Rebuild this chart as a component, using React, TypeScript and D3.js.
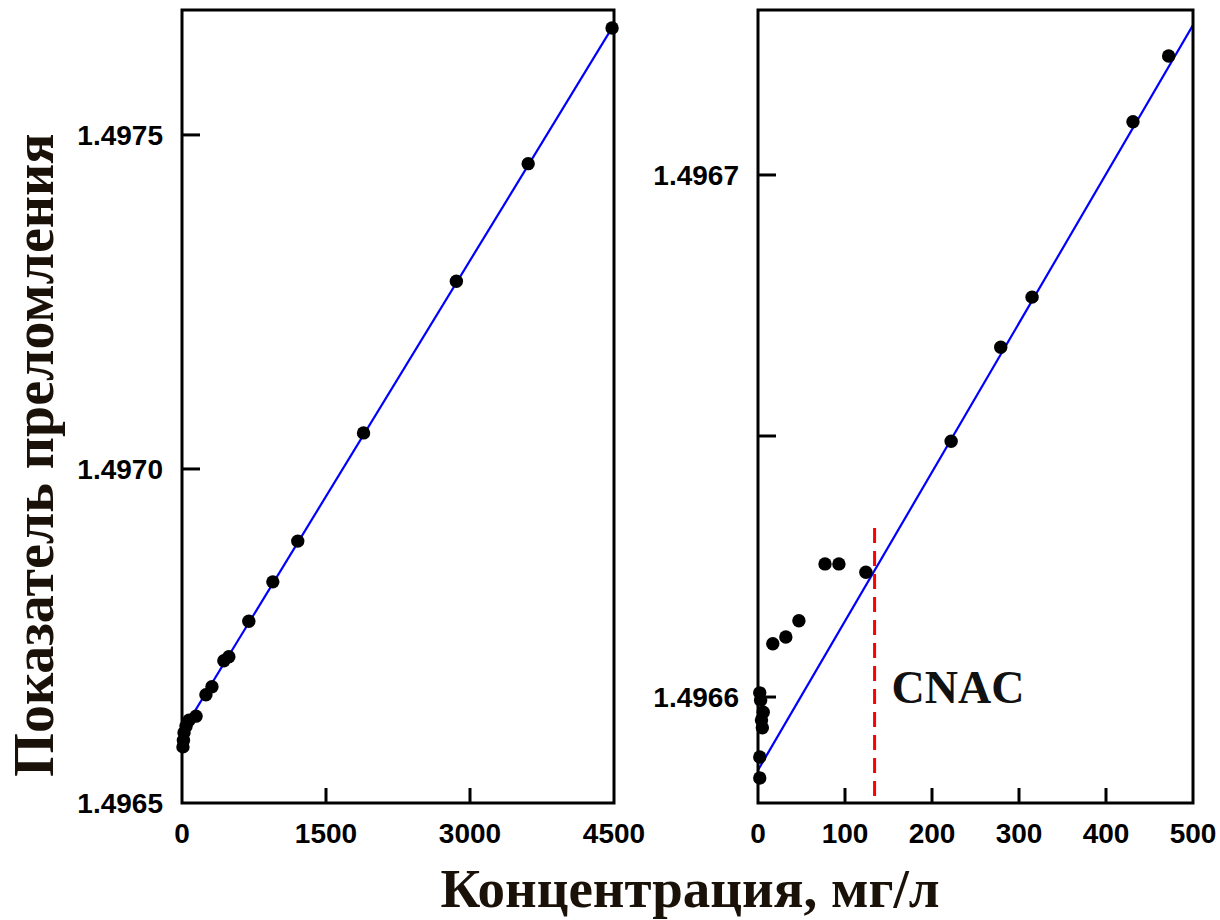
import React from "react";
import * as d3 from "d3";

// left panel: full concentration range
const leftConc = [10, 15, 21, 42, 73, 146, 249, 312, 436, 488, 696, 946, 1206, 1891, 2858, 3606, 4480];
const leftRI = [1.496584, 1.496594, 1.496605, 1.496615, 1.496624, 1.49663, 1.496662, 1.496674, 1.496713, 1.496719, 1.496772, 1.496831, 1.496892, 1.497054, 1.497281, 1.497457, 1.49766];
const leftFitX = [0, 4500];
const leftFitY = [1.496606, 1.497665];
const leftYTicks = [1.4965, 1.497, 1.4975];
const leftXTicks = [0, 1500, 3000, 4500];

// right panel: low concentrations
const rightConc = [2, 2, 3, 6, 4, 5, 2, 17, 32, 47, 77, 93, 124, 222, 279, 315, 431, 472];
const rightRI = [1.4965845, 1.4965885, 1.4965994, 1.4965971, 1.4965956, 1.4965941, 1.4966008, 1.4966102, 1.4966115, 1.4966146, 1.4966255, 1.4966255, 1.4966239, 1.496649, 1.496667, 1.4966766, 1.4967102, 1.4967228];
const rightFitX = [0, 500];
const rightFitY = [1.496586, 1.4967287];
const rightYTicks = [1.4966, 1.49665, 1.4967];
const rightYLabels = ["1.4966", "", "1.4967"];
const rightXTicks = [0, 100, 200, 300, 400, 500];
const cnac = 134;
const cnacTop = 1.4966324;

const TICK_FONT = "'Liberation Sans', Arial, sans-serif";
const SERIF = "'Liberation Serif', 'Times New Roman', serif";

type PanelProps = {
  x0: number; x1: number; y0: number; y1: number;
  xDomain: [number, number]; yDomain: [number, number];
  xs: number[]; ys: number[];
  fitX: number[]; fitY: number[];
  xTicks: number[]; yTicks: number[]; yLabels: string[];
  children?: (x: d3.ScaleLinear<number, number>, y: d3.ScaleLinear<number, number>) => React.ReactNode;
};

function Panel(p: PanelProps) {
  const x = d3.scaleLinear().domain(p.xDomain).range([p.x0, p.x1]);
  const y = d3.scaleLinear().domain(p.yDomain).range([p.y1, p.y0]);
  const fit = d3.line<number>().x((_, i) => x(p.fitX[i])).y(d => y(d));
  const clipId = `clip${p.x0}`;
  const [xd0, xd1] = p.xDomain;
  const [yd0, yd1] = p.yDomain;
  return (
    <g>
      <clipPath id={clipId}>
        <rect x={p.x0} y={p.y0} width={p.x1 - p.x0} height={p.y1 - p.y0} />
      </clipPath>
      <path d={fit(p.fitY) || ""} fill="none" stroke="#0000ff" strokeWidth={2.2} clipPath={`url(#${clipId})`} />
      {p.children && p.children(x, y)}
      {p.xs.map((v, i) => (
        <circle key={i} cx={x(v)} cy={y(p.ys[i])} r={6.7} fill="#000" />
      ))}
      <rect x={p.x0} y={p.y0} width={p.x1 - p.x0} height={p.y1 - p.y0} fill="none" stroke="#000" strokeWidth={3} />
      {p.xTicks.map(t => (
        <g key={"x" + t}>
          {t !== xd0 && t !== xd1 && (
            <line x1={x(t)} x2={x(t)} y1={p.y1} y2={p.y1 - 15} stroke="#000" strokeWidth={3} />
          )}
          <text x={x(t)} y={843} textAnchor="middle" fontFamily={TICK_FONT} fontWeight="bold" fontSize={28} fill="#000">
            {t}
          </text>
        </g>
      ))}
      {p.yTicks.map((t, i) => (
        <g key={"y" + t}>
          {t !== yd0 && t !== yd1 && (
            <line x1={p.x0} x2={p.x0 + 18} y1={y(t)} y2={y(t)} stroke="#000" strokeWidth={3} />
          )}
          <text x={p.x0 - 19} y={y(t)} dy="0.35em" textAnchor="end" fontFamily={TICK_FONT} fontWeight="bold" fontSize={28} fill="#000">
            {p.yLabels[i]}
          </text>
        </g>
      ))}
    </g>
  );
}

export default function App() {
  return (
    <svg width={1220} height={920} style={{ position: "absolute", left: 0, top: 0, background: "#fff" }}>
      <rect width={1220} height={920} fill="#fff" />
      <Panel
        x0={182} x1={614} y0={10} y1={803}
        xDomain={[0, 4500]} yDomain={[1.4965, 1.497687]}
        xs={leftConc} ys={leftRI} fitX={leftFitX} fitY={leftFitY}
        xTicks={leftXTicks} yTicks={leftYTicks} yLabels={["1.4965", "1.4970", "1.4975"]}
      />
      <Panel
        x0={758} x1={1193} y0={10} y1={803}
        xDomain={[0, 500]} yDomain={[1.4965797, 1.4967316]}
        xs={rightConc} ys={rightRI} fitX={rightFitX} fitY={rightFitY}
        xTicks={rightXTicks} yTicks={rightYTicks} yLabels={rightYLabels}
      >
        {(x, y) => (
          <g>
            <line x1={x(cnac)} x2={x(cnac)} y1={y(cnacTop)} y2={y(1.4965797)} stroke="#ff0000" strokeWidth={3} strokeDasharray="15,8" />
            <text x={x(cnac) + 17} y={703} fontFamily={SERIF} fontWeight="bold" fontSize={46} fill="#111">CNAC</text>
          </g>
        )}
      </Panel>
      <text x={690} y={907} textAnchor="middle" fontFamily={SERIF} fontWeight="bold" fontSize={55} fill="#1a1208">
        Концентрация, мг/л
      </text>
      <text transform="translate(53,455) rotate(-90)" textAnchor="middle" fontFamily={SERIF} fontWeight="bold" fontSize={56} fill="#1a1208">
        Показатель преломления
      </text>
    </svg>
  );
}
